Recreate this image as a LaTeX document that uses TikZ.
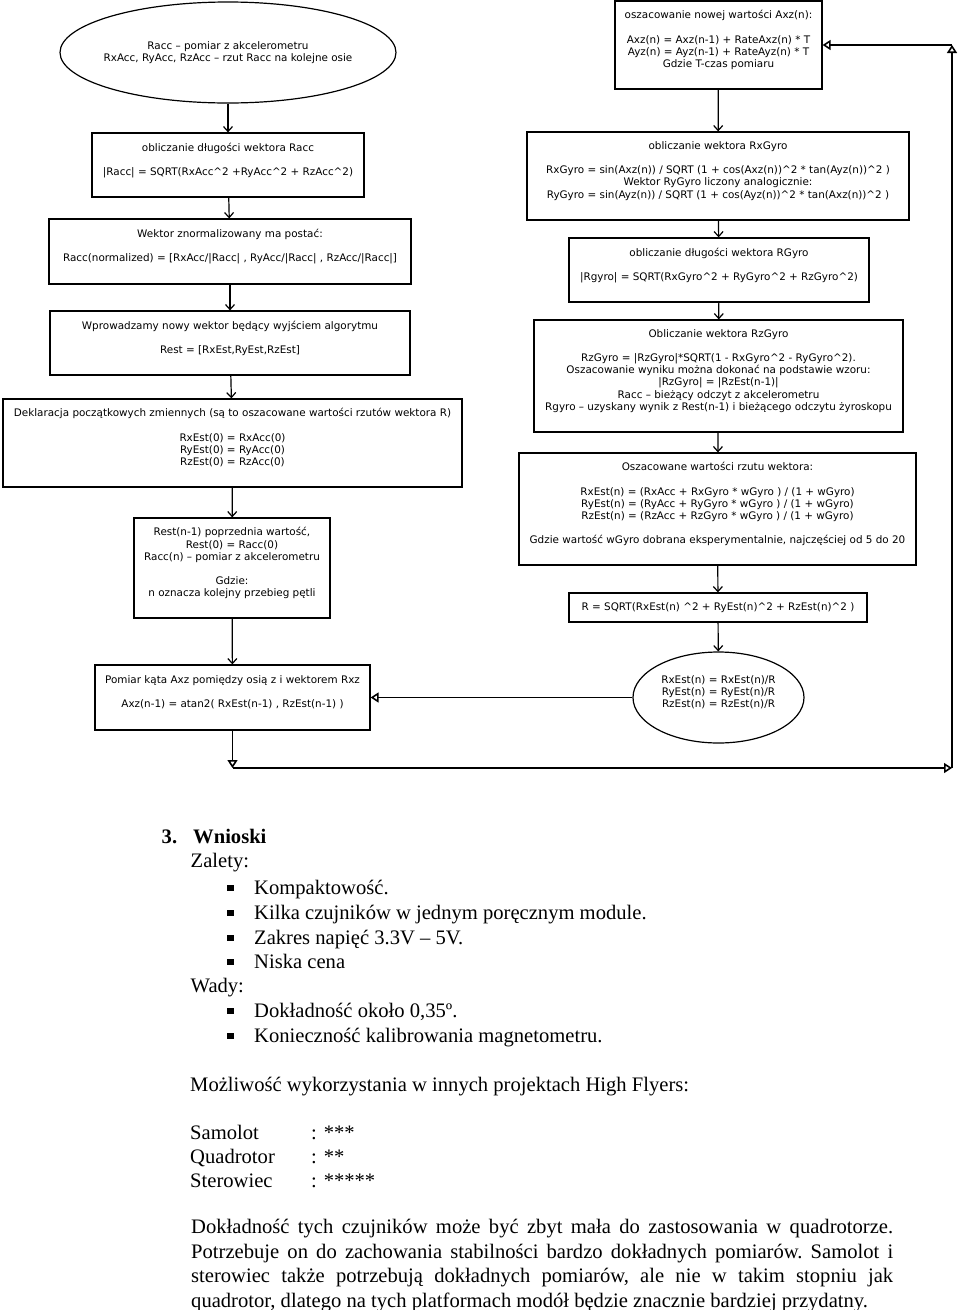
\documentclass[tikz,border=0pt]{standalone}
\usepackage{fontspec}
\setmainfont{Liberation Serif}
\newfontfamily\chartfont{DejaVu Sans}
\usetikzlibrary{shapes.geometric,arrows.meta}
\newcommand{\pw}{\textasciicircum}
\newcommand{\sqbul}{\makebox[27pt][l]{\raisebox{3pt}{\rule{6.5pt}{6.5pt}}}}

\tikzset{
  box/.style={draw, line width=1.2pt, align=center, inner xsep=1pt,
    font=\chartfont\fontsize{10.4}{12.1}\selectfont},
  oval/.style={box, ellipse, inner xsep=-30pt, inner ysep=0pt},
  flow/.style={line width=1.2pt, -{Straight Barb[length=5pt,width=9pt]}},
  back/.style={line width=1.6pt, -{Triangle[open,length=8pt,width=10pt]}},
  txt/.style={anchor=base west, inner sep=0pt, font=\fontsize{20.6}{24.7}\selectfont},
  head/.style={txt, font=\fontsize{20.6}{24.7}\selectfont\bfseries}
}

\begin{document}
\begin{tikzpicture}[x=1pt, y=-1pt]
\useasboundingbox (0,0) rectangle (960,1310);

% lewa kolumna
\node[oval, minimum width=336pt, minimum height=101pt] (racc) at (228,52.5)
  {Racc – pomiar z akcelerometru\\RxAcc, RyAcc, RzAcc – rzut Racc na kolejne osie};
\node[box, minimum width=272pt, minimum height=64pt] (len) at (228,165)
  {obliczanie długości wektora Racc\\[12pt]|Racc| = SQRT(RxAcc\pw2 +RyAcc\pw2 + RzAcc\pw2)\\ \mbox{}};
\node[box, minimum width=362pt, minimum height=65pt] (norm) at (230,251.5)
  {Wektor znormalizowany ma postać:\\[12pt]Racc(normalized) = [RxAcc/|Racc| , RyAcc/|Racc| , RzAcc/|Racc|]\\ \mbox{}};
\node[box, minimum width=360pt, minimum height=64pt] (rest) at (230,343)
  {Wprowadzamy nowy wektor będący wyjściem algorytmu\\[12pt]Rest = [RxEst,RyEst,RzEst]\\ \mbox{}};
\node[box, minimum width=459pt, minimum height=88pt] (init) at (232.5,443)
  {Deklaracja początkowych zmiennych (są to oszacowane wartości rzutów wektora R)\\[12pt]RxEst(0) = RxAcc(0)\\RyEst(0) = RyAcc(0)\\RzEst(0) = RzAcc(0)\\ \mbox{}};
\node[box, minimum width=196pt, minimum height=100pt] (prev) at (232,568)
  {Rest(n-1) poprzednia wartość,\\Rest(0) = Racc(0)\\Racc(n) – pomiar z akcelerometru\\[12pt]Gdzie:\\n oznacza kolejny przebieg pętli\\ \mbox{}};
\node[box, minimum width=275pt, minimum height=65pt] (angle) at (232.5,697.5)
  {Pomiar kąta Axz pomiędzy osią z i wektorem Rxz\\[12pt]Axz(n-1) = atan2( RxEst(n-1) , RzEst(n-1) )\\ \mbox{}};

% prawa kolumna
\node[box, minimum width=207pt, minimum height=88pt] (axz) at (718.5,45)
  {oszacowanie nowej wartości Axz(n):\\[12pt]Axz(n) = Axz(n-1) + RateAxz(n) * T\\Ayz(n) = Ayz(n-1) + RateAyz(n) * T\\Gdzie T-czas pomiaru\\ \mbox{}};
\node[box, minimum width=382pt, minimum height=88pt] (rxgyro) at (718,176)
  {obliczanie wektora RxGyro\\[12pt]RxGyro = sin(Axz(n)) / SQRT (1 + cos(Axz(n))\pw2 * tan(Ayz(n))\pw2 )\\Wektor RyGyro liczony analogicznie:\\RyGyro = sin(Ayz(n)) / SQRT (1 + cos(Ayz(n))\pw2 * tan(Axz(n))\pw2 )\\ \mbox{}};
\node[box, minimum width=300pt, minimum height=64pt] (rgyro) at (719,270)
  {obliczanie długości wektora RGyro\\[12pt]|Rgyro| = SQRT(RxGyro\pw2 + RyGyro\pw2 + RzGyro\pw2)\\ \mbox{}};
\node[box, minimum width=369pt, minimum height=112pt] (rzgyro) at (718.5,376)
  {Obliczanie wektora RzGyro\\[12pt]RzGyro = |RzGyro|*SQRT(1 - RxGyro\pw2 - RyGyro\pw2).\\Oszacowanie wyniku można dokonać na podstawie wzoru:\\|RzGyro| = |RzEst(n-1)|\\Racc – bieżący odczyt z akcelerometru\\Rgyro – uzyskany wynik z Rest(n-1) i bieżącego odczytu żyroskopu\\ \mbox{}};
\node[box, minimum width=397pt, minimum height=112pt] (est) at (717.5,509)
  {Oszacowane wartości rzutu wektora:\\[12pt]RxEst(n) = (RxAcc + RxGyro * wGyro ) / (1 + wGyro)\\RyEst(n) = (RyAcc + RyGyro * wGyro ) / (1 + wGyro)\\RzEst(n) = (RzAcc + RzGyro * wGyro ) / (1 + wGyro)\\[12pt]Gdzie wartość wGyro dobrana eksperymentalnie, najczęściej od 5 do 20\\ \mbox{}};
\node[box, minimum width=298pt, minimum height=29pt] (rlen) at (718,607.5)
  {R = SQRT(RxEst(n) \pw2 + RyEst(n)\pw2 +  RzEst(n)\pw2 )};
\node[oval, minimum width=171pt, minimum height=91pt] (normout) at (718.5,697.5)
  {RxEst(n) = RxEst(n)/R\\RyEst(n) = RyEst(n)/R\\RzEst(n) = RzEst(n)/R\\ \mbox{}};

\draw[flow] (racc) -- (len);
\draw[flow] (len) -- (norm);
\draw[flow] (norm) -- (rest);
\draw[flow] (rest) -- (init);
\draw[flow] (init) -- (prev);
\draw[flow] (prev) -- (angle);
\draw[flow] (axz) -- (rxgyro);
\draw[flow] (rxgyro) -- (rgyro);
\draw[flow] (rgyro) -- (rzgyro);
\draw[flow] (rzgyro) -- (est);
\draw[flow] (est) -- (rlen);
\draw[flow] (rlen) -- (normout);

% petla
\coordinate (c1) at (angle.south |- 0,768);
\coordinate (c2) at (952,768);
\coordinate (c3) at (952,45);
\draw[back] (normout) -- (angle);
\draw[back] (angle) -- (c1);
\draw[back] (c1) -- (c2);
\draw[back] (c2) -- (c3);
\draw[back] (c3) -- (axz.east);

% tekst pod schematem
\node[head] (num) at (161.5,843) {3.};
\node[head] (wn) at (193,843) {Wnioski};
\node[txt] (zal) at (190.5,867) {Zalety:};
\node[txt] (z1) at (227,894) {\sqbul Kompaktowość.};
\node[txt] (z2) at (227,919) {\sqbul Kilka czujników w jednym poręcznym module.};
\node[txt] (z3) at (227,944) {\sqbul Zakres napięć 3.3V – 5V.};
\node[txt] (z4) at (227,968) {\sqbul Niska cena};
\node[txt] (wady) at (190.5,992.5) {Wady:};
\node[txt] (w1) at (227,1017) {\sqbul Dokładność około 0,35º.};
\node[txt] (w2) at (227,1042) {\sqbul Konieczność kalibrowania magnetometru.};
\node[txt] (mozl) at (190,1091) {Możliwość wykorzystania w innych projektach High Flyers:};
\node[txt] (sam) at (190,1139) {Samolot};
\node[txt] (samv) at (311,1139) {: ***};
\node[txt] (quad) at (190,1163) {Quadrotor};
\node[txt] (quadv) at (311,1163) {: **};
\node[txt] (ster) at (190,1187) {Sterowiec};
\node[txt] (sterv) at (311,1187) {: *****};
\node[txt, anchor=north west, text width=702pt, align=justify] (par) at (191,1219)
  {\noindent\frenchspacing\hyphenpenalty=10000 Dokładność tych czujników może być zbyt mała do zastosowania w quadrotorze.\linebreak
   Potrzebuje on do zachowania stabilności bardzo dokładnych pomiarów. Samolot i\linebreak
   sterowiec także potrzebują dokładnych pomiarów, ale nie w takim stopniu jak\linebreak
   quadrotor, dlatego na tych platformach modół będzie znacznie bardziej przydatny.};
\end{tikzpicture}
\end{document}
